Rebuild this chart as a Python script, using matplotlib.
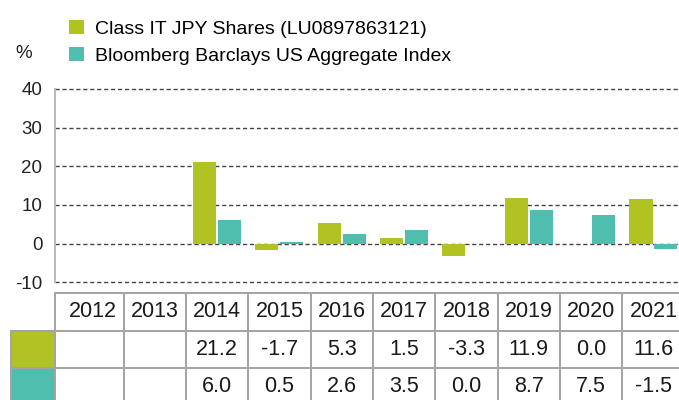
import numpy as np
import matplotlib
matplotlib.use('Agg')
import matplotlib.pyplot as plt
from matplotlib.patches import Rectangle

plt.rcParams['font.family'] = ['Liberation Sans', 'DejaVu Sans']

# data
years = ['2012', '2013', '2014', '2015', '2016', '2017', '2018', '2019', '2020', '2021']
fund = [np.nan, np.nan, 21.2, -1.7, 5.3, 1.5, -3.3, 11.9, 0.0, 11.6]
index = [np.nan, np.nan, 6.0, 0.5, 2.6, 3.5, 0.0, 8.7, 7.5, -1.5]
fund_label = 'Class IT JPY Shares (LU0897863121)'
index_label = 'Bloomberg Barclays US Aggregate Index'
yticks = [-10, 0, 10, 20, 30, 40]

green = '#B0C323'
teal = '#4FBEAE'
line_grey = '#A3A3A3'

W, H = 679, 400
fig = plt.figure(figsize=(W / 100, H / 100), dpi=100)

x = np.arange(len(years))
xlim = (-0.60, 9.41)

# main bar axes
ax = fig.add_axes([55 / W, 1 - 282.3 / H, 1 - 55 / W, (282.3 - 89) / H])
b1 = ax.bar(x - 0.2, fund, width=0.37, color=green, label=fund_label, zorder=2)
b2 = ax.bar(x + 0.2, index, width=0.37, color=teal, label=index_label, zorder=2)
ax.set_xlim(*xlim)
ax.set_ylim(-10, 40)
ax.set_yticks(yticks)
ax.set_yticklabels([str(v) for v in yticks], fontsize=13.5, color='#222222')
ax.tick_params(axis='y', length=0, pad=9)
ax.set_xticks([])
ax.set_axisbelow(True)
for v in yticks:
    ax.axhline(v, color='#444444', lw=1.0, ls=(0, (3, 2)), zorder=1, clip_on=False)
for s in ['top', 'right', 'bottom']:
    ax.spines[s].set_visible(False)
ax.spines['left'].set_color('#B5B5B5')
ax.spines['left'].set_linewidth(1.3)

fig.text(15 / W, 1 - 53 / H, '%', fontsize=13.5, color='#222222', va='center', ha='left')

fig.legend(handles=[b1, b2], loc='upper left', bbox_to_anchor=(69 / W, 1 - 20 / H),
           frameon=False, fontsize=14, handlelength=0.77, handleheight=0.77,
           handletextpad=0.57, labelspacing=0.44, borderaxespad=0, borderpad=0)

# table below
row_h = 37.5
tab_top = 293
ax_t = fig.add_axes([55 / W, 0, 1 - 55 / W, (H - tab_top) / H])
ax_t.set_xlim(*xlim)
ax_t.set_ylim((H - tab_top) / row_h, 0)
ax_t.axis('off')

lw = 1.4
sw_left = xlim[0] - 44 / 62.3
for r in range(3):
    x0 = xlim[0] if r == 0 else sw_left
    ax_t.plot([x0, xlim[1]], [r, r], color=line_grey, lw=lw, clip_on=False)
ax_t.plot([xlim[0], xlim[0]], [0, 3], color=line_grey, lw=lw, clip_on=False)
for i in range(1, len(years)):
    ax_t.plot([i - 0.5, i - 0.5], [0, 3], color=line_grey, lw=lw, clip_on=False)

for r, c in enumerate([green, teal]):
    ax_t.add_patch(Rectangle((sw_left, r + 1), xlim[0] - sw_left, 1, facecolor=c,
                             edgecolor=line_grey, lw=lw, clip_on=False))

tfs = 15.5
for i, yr in enumerate(years):
    ax_t.text(i, 0.5, yr, ha='center', va='center', fontsize=tfs, color='#1a1a1a')
    for r, vals in enumerate([fund, index]):
        if not np.isnan(vals[i]):
            ax_t.text(i, r + 1.5, f'{vals[i]:.1f}', ha='center', va='center',
                      fontsize=tfs, color='#1a1a1a')

fig.savefig('out.png', dpi=100)
